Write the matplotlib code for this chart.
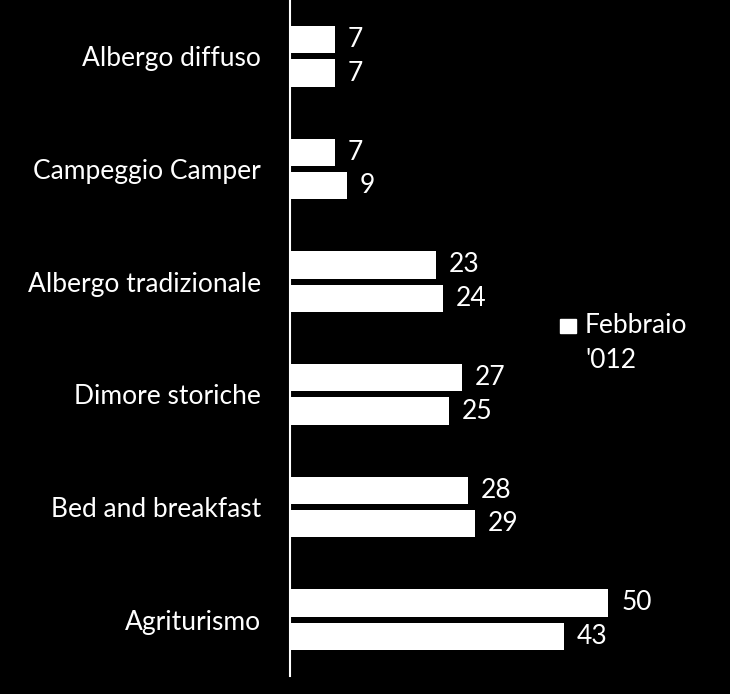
import matplotlib.pyplot as plt
from matplotlib.patches import Rectangle
import numpy as np

categories = ['Albergo diffuso', 'Campeggio Camper', 'Albergo tradizionale',
              'Dimore storiche', 'Bed and breakfast', 'Agriturismo']
febbraio_012 = [7, 7, 23, 27, 28, 50]
altro = [7, 9, 24, 25, 29, 43]

plt.rcParams['font.family'] = ['Lato', 'DejaVu Sans']

fig = plt.figure(figsize=(7.3, 6.94), dpi=100, facecolor='black')
ax = fig.add_axes([290 / 730, 18 / 694, 382 / 730, 676 / 694], facecolor='black')

y = np.arange(len(categories))
h = 0.243
off = (h + 0.053) / 2
b1 = ax.barh(y - off, febbraio_012, height=h, color='white')
b2 = ax.barh(y + off, altro, height=h, color='white')

for bars, vals in ((b1, febbraio_012), (b2, altro)):
    for bar, v in zip(bars, vals):
        ax.text(bar.get_width() + 2.0, bar.get_y() + bar.get_height() / 2, str(v),
                color='white', fontsize=19, va='center', ha='left')

ax.set_ylim(len(categories) - 0.5, -0.5)
ax.set_xlim(0, 60)
ax.set_yticks(y)
ax.set_yticklabels(categories, color='white', fontsize=19)
ax.tick_params(axis='y', length=0, pad=21)
ax.set_xticks([])
for s in ['top', 'right', 'bottom']:
    ax.spines[s].set_visible(False)
ax.spines['left'].set_color('white')
ax.spines['left'].set_linewidth(1.5)

# legend (only one entry shown)
fig.patches.append(Rectangle((560 / 730, 1 - 333 / 694), 16 / 730, 14 / 694,
                             transform=fig.transFigure, color='white'))
fig.text(585 / 730, 1 - 333 / 694, "Febbraio", color='white', fontsize=19,
         va='baseline', ha='left')
fig.text(585 / 730, 1 - 368 / 694, "'012", color='white', fontsize=19,
         va='baseline', ha='left')

fig.savefig('out.png', dpi=100, facecolor='black')
